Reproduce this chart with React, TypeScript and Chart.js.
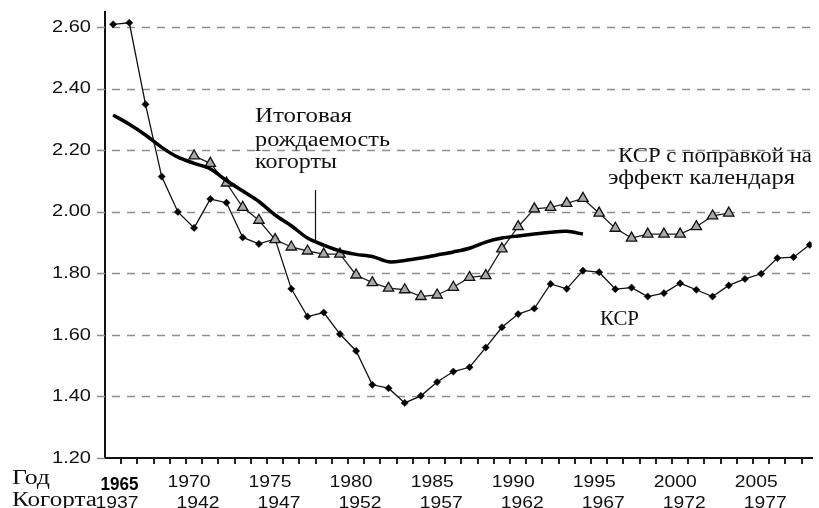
import React, { useEffect, useRef } from "react";
import { Chart, registerables } from "chart.js";

Chart.register(...registerables);

// ---- data ----
const ksrYears = [
  1965, 1966, 1967, 1968, 1969, 1970, 1971, 1972, 1973, 1974, 1975, 1976, 1977, 1978, 1979,
  1980, 1981, 1982, 1983, 1984, 1985, 1986, 1987, 1988, 1989, 1990, 1991, 1992, 1993, 1994,
  1995, 1996, 1997, 1998, 1999, 2000, 2001, 2002, 2003, 2004, 2005, 2006, 2007, 2008,
];
const ksrValues = [
  2.61, 2.615, 2.35, 2.115, 2.0, 1.948, 2.042, 2.03, 1.917, 1.896, 1.912, 1.75, 1.66, 1.673, 1.603,
  1.548, 1.438, 1.427, 1.379, 1.402, 1.447, 1.481, 1.495, 1.559, 1.625, 1.668, 1.686, 1.766, 1.75, 1.809,
  1.804, 1.749, 1.754, 1.725, 1.736, 1.768, 1.747, 1.725, 1.761, 1.782, 1.799, 1.85, 1.853, 1.893,
];

const adjYears = [
  1970, 1971, 1972, 1973, 1974, 1975, 1976, 1977, 1978, 1979, 1980, 1981, 1982, 1983, 1984, 1985, 1986,
  1987, 1988, 1989, 1990, 1991, 1992, 1993, 1994, 1995, 1996, 1997, 1998, 1999, 2000, 2001, 2002, 2003,
];
const adjValues = [
  2.182, 2.158, 2.094, 2.015, 1.973, 1.91, 1.886, 1.873, 1.863, 1.863, 1.795, 1.77, 1.752, 1.747, 1.725, 1.73, 1.755,
  1.787, 1.793, 1.88, 1.952, 2.01, 2.015, 2.028, 2.044, 1.996, 1.947, 1.915, 1.928, 1.928, 1.928, 1.952, 1.987, 1.996,
];

const cohortYears = [
  1965, 1966, 1967, 1968, 1969, 1970, 1971, 1972, 1973, 1974, 1975, 1976, 1977, 1978, 1979,
  1980, 1981, 1982, 1983, 1984, 1985, 1986, 1987, 1988, 1989, 1990, 1991, 1992, 1993, 1994,
];
const cohortValues = [
  2.315, 2.285, 2.25, 2.21, 2.178, 2.158, 2.14, 2.102, 2.068, 2.034, 1.99, 1.955, 1.915, 1.892, 1.873,
  1.862, 1.855, 1.838, 1.842, 1.85, 1.86, 1.87, 1.882, 1.902, 1.915, 1.922, 1.928, 1.934, 1.937, 1.928,
];

const yearTickLabels = ["1965", "1970", "1975", "1980", "1985", "1990", "1995", "2000", "2005"];
const cohortTickLabels = ["1937", "1942", "1947", "1952", "1957", "1962", "1967", "1972", "1977"];
const yTickValues = [1.2, 1.4, 1.6, 1.8, 2.0, 2.2, 2.4, 2.6];
const rowTitleYear = "Год";
const rowTitleCohort = "Когорта";
const cohortNoteLines = ["Итоговая", "рождаемость", "когорты"];
const adjNoteLines = ["КСР с поправкой на", "эффект календаря"];
const ksrNote = "КСР";

const SANS = '"Liberation Sans", Arial, sans-serif';
const SERIF = '"Liberation Serif", "Times New Roman", serif';

function drawText(
  ctx: CanvasRenderingContext2D,
  text: string,
  x: number,
  y: number,
  font: string,
  align: CanvasTextAlign,
  targetWidth?: number,
  color = "#111",
  baseline: CanvasTextBaseline = "alphabetic"
) {
  ctx.save();
  ctx.font = font;
  ctx.fillStyle = color;
  ctx.textBaseline = baseline;
  const w = ctx.measureText(text).width;
  const sx = targetWidth ? targetWidth / w : 1;
  ctx.translate(x, y);
  ctx.scale(sx, 1);
  ctx.textAlign = align;
  ctx.fillText(text, 0, 0);
  ctx.restore();
}

const gridPlugin = {
  id: "dashedGrid",
  beforeDatasetsDraw(chart: any) {
    const ctx: CanvasRenderingContext2D = chart.ctx;
    const ys = chart.scales.y;
    const area = chart.chartArea;
    ctx.save();
    ctx.lineWidth = 1.4;
    ctx.strokeStyle = "#8e8e8e";
    ctx.setLineDash([8, 7]);
    yTickValues.forEach((v) => {
      const py = Math.round(ys.getPixelForValue(v)) + 0.5;
      if (Math.abs(v - yTickValues[0]) < 1e-6) {
        // only the short tick mark left of the axis
        ctx.beginPath();
        ctx.moveTo(area.left - 8, py);
        ctx.lineTo(area.left, py);
        ctx.stroke();
        return;
      }
      ctx.lineDashOffset = 0;
      ctx.beginPath();
      ctx.moveTo(area.left - 8, py);
      ctx.lineTo(area.right, py);
      ctx.stroke();
    });
    ctx.restore();
  },
};

const textPlugin = {
  id: "textPlugin",
  afterDraw(chart: any) {
    const ctx: CanvasRenderingContext2D = chart.ctx;
    const xs = chart.scales.x;
    const ys = chart.scales.y;

    // y tick labels
    const yFont = `16.5px ${SANS}`;
    ctx.save();
    ctx.font = yFont;
    const yScaleX = 39 / ctx.measureText("2.60").width;
    ctx.restore();
    yTickValues.forEach((v) => {
      const py = ys.getPixelForValue(v);
      ctx.save();
      ctx.font = yFont;
      ctx.fillStyle = "#111";
      ctx.textBaseline = "middle";
      ctx.textAlign = "right";
      ctx.translate(91, py);
      ctx.scale(yScaleX, 1);
      ctx.fillText(v.toFixed(2), 0, 0);
      ctx.restore();
    });

    // x tick labels: years row
    yearTickLabels.forEach((lab, i) => {
      const px = xs.getPixelForValue(Number(lab));
      if (i === 0) {
        drawText(ctx, lab, px + 6.5, 490, `bold 18px ${SANS}`, "center", 38, "#000");
      } else {
        drawText(ctx, lab, px - 5, 487, `16.5px ${SANS}`, "center", 43);
      }
    });
    // cohort row
    cohortTickLabels.forEach((lab, i) => {
      const px = xs.getPixelForValue(Number(yearTickLabels[i]));
      drawText(ctx, lab, px + 4, 507.5, `16.5px ${SANS}`, "center", 43);
    });

    // row titles
    drawText(ctx, rowTitleYear, 12, 483.5, `20px ${SERIF}`, "left", 38);
    drawText(ctx, rowTitleCohort, 12, 506, `20px ${SERIF}`, "left", 85);

    // cohort note
    const cohortBases = [122, 146, 168];
    const cohortWidths = [97, 135, 82];
    cohortNoteLines.forEach((t, i) =>
      drawText(ctx, t, 255, cohortBases[i], `20px ${SERIF}`, "left", cohortWidths[i])
    );
    // pointer line
    ctx.save();
    ctx.strokeStyle = "#111";
    ctx.lineWidth = 1.2;
    ctx.beginPath();
    ctx.moveTo(315.5, 190);
    ctx.lineTo(315.5, 240);
    ctx.stroke();
    ctx.restore();

    // adjusted note
    drawText(ctx, adjNoteLines[0], 618, 162, `20px ${SERIF}`, "left", 194);
    drawText(ctx, adjNoteLines[1], 608, 184, `20px ${SERIF}`, "left", 187);

    // KSR note
    drawText(ctx, ksrNote, 600, 324.5, `20px ${SERIF}`, "left", 39);
  },
};

export default function App() {
  const canvasRef = useRef<HTMLCanvasElement | null>(null);

  useEffect(() => {
    const canvas = canvasRef.current;
    if (!canvas) return;

    const halfYears: number[] = [];
    for (let y = 1965.5; y < 2008.2; y += 1) halfYears.push(y);

    const chart = new Chart(canvas, {
      type: "line",
      data: {
        datasets: [
          {
            label: "Итоговая рождаемость когорты",
            data: cohortYears.map((yr, i) => ({ x: yr, y: cohortValues[i] })),
            borderColor: "#000",
            borderWidth: 3.5,
            pointRadius: 0,
            tension: 0.3,
            fill: false,
          },
          {
            label: "КСР с поправкой на эффект календаря",
            data: adjYears.map((yr, i) => ({ x: yr, y: adjValues[i] })),
            borderColor: "#222",
            borderWidth: 1.3,
            pointStyle: "triangle",
            pointRadius: 6,
            pointBackgroundColor: "#a9a9a9",
            pointBorderColor: "#111",
            pointBorderWidth: 1.3,
            tension: 0,
            fill: false,
          },
          {
            label: "КСР",
            data: ksrYears.map((yr, i) => ({ x: yr, y: ksrValues[i] })),
            borderColor: "#111",
            borderWidth: 1.3,
            pointStyle: "rectRot",
            pointRadius: 3.6,
            pointBackgroundColor: "#000",
            pointBorderColor: "#000",
            pointBorderWidth: 0.5,
            tension: 0,
            fill: false,
          },
        ],
      },
      options: {
        responsive: false,
        animation: false,
        events: [],
        layout: { padding: { top: 12, right: 0, left: 0, bottom: 0 } },
        plugins: {
          legend: { display: false },
          tooltip: { enabled: false },
        },
        scales: {
          x: {
            type: "linear",
            min: 1964.5,
            max: 2008.12,
            afterBuildTicks: (scale: any) => {
              scale.ticks = halfYears.map((v) => ({ value: v }));
            },
            afterFit: (scale: any) => {
              scale.height = 50;
            },
            ticks: { display: false },
            grid: {
              display: true,
              drawOnChartArea: false,
              drawTicks: true,
              tickLength: 6,
              color: "#222",
              lineWidth: 2,
            },
            border: { display: true, color: "#111", width: 2 },
          },
          y: {
            type: "linear",
            min: 1.2,
            max: 2.65,
            afterBuildTicks: (scale: any) => {
              scale.ticks = yTickValues.map((v) => ({ value: v }));
            },
            afterFit: (scale: any) => {
              scale.width = 105;
            },
            ticks: { display: false },
            grid: { display: false },
            border: { display: true, color: "#111", width: 2 },
          },
        },
      },
      plugins: [gridPlugin, textPlugin],
    });

    return () => {
      chart.destroy();
    };
  }, []);

  return (
    <div
      style={{
        position: "fixed",
        left: 0,
        top: 0,
        width: 819,
        height: 508,
        background: "#fff",
        overflow: "hidden",
      }}
    >
      <canvas ref={canvasRef} width={819} height={508} style={{ display: "block" }} />
    </div>
  );
}
